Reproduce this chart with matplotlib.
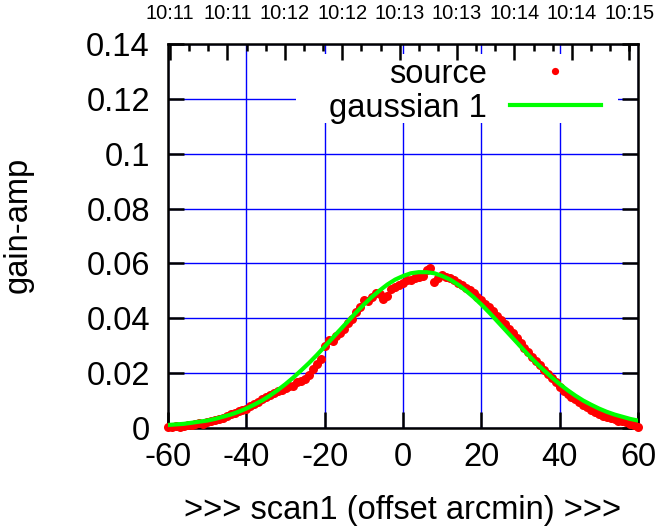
import matplotlib
matplotlib.use('Agg')
import matplotlib.pyplot as plt
from matplotlib.patches import Rectangle
from matplotlib.ticker import AutoMinorLocator

plt.rcParams['font.family'] = ['Liberation Sans', 'DejaVu Sans']

# source points: offset (arcmin) and gain-amp
src_x = list(range(-60, 61))
src_y = [0.0002, 0.0005, 0.0006, 0.0004, 0.0008, 0.0010, 0.0011, 0.0014, 0.0017, 0.0016,
         0.0021, 0.0025, 0.0028, 0.0032, 0.0035, 0.0044, 0.0050, 0.0053, 0.0061, 0.0066,
         0.0068, 0.0079, 0.0087, 0.0095, 0.0104, 0.0112, 0.0121, 0.0126, 0.0133, 0.0140,
         0.0146, 0.0152, 0.0152, 0.0168, 0.0172, 0.0180, 0.0192, 0.0215, 0.0232, 0.0252,
         0.0300, 0.0322, 0.0318, 0.0335, 0.0345, 0.0362, 0.0381, 0.0398, 0.0424, 0.0440,
         0.0466, 0.0462, 0.0478, 0.0492, 0.0488, 0.0470, 0.0482, 0.0508, 0.0515, 0.0522,
         0.0528, 0.0538, 0.0541, 0.0545, 0.0549, 0.0553, 0.0575, 0.0585, 0.0532, 0.0548,
         0.0557, 0.0552, 0.0545, 0.0540, 0.0530, 0.0521, 0.0510, 0.0503, 0.0492, 0.0478,
         0.0466, 0.0452, 0.0440, 0.0425, 0.0410, 0.0392, 0.0378, 0.0362, 0.0345, 0.0328,
         0.0310, 0.0292, 0.0276, 0.0260, 0.0244, 0.0228, 0.0212, 0.0196, 0.0182, 0.0166,
         0.0148, 0.0136, 0.0125, 0.0114, 0.0104, 0.0093, 0.0084, 0.0075, 0.0066, 0.0058,
         0.0051, 0.0045, 0.0040, 0.0035, 0.0031, 0.0027, 0.0024, 0.0021, 0.0016, 0.0010,
         0.0003]

# gaussian fit curve
fit_x = list(range(-60, 61, 2))
fit_y = [0.0011, 0.0013, 0.0015, 0.0019, 0.0023, 0.0027, 0.0033, 0.0041, 0.0049, 0.0059,
         0.0071, 0.0085, 0.0100, 0.0118, 0.0138, 0.0160, 0.0184, 0.0210, 0.0237, 0.0266,
         0.0297, 0.0328, 0.0359, 0.0390, 0.0421, 0.0450, 0.0477, 0.0501, 0.0523, 0.0541,
         0.0554, 0.0564, 0.0568, 0.0568, 0.0564, 0.0554, 0.0541, 0.0523, 0.0501, 0.0477,
         0.0450, 0.0421, 0.0390, 0.0359, 0.0328, 0.0297, 0.0266, 0.0237, 0.0210, 0.0184,
         0.0160, 0.0138, 0.0118, 0.0100, 0.0085, 0.0071, 0.0059, 0.0049, 0.0041, 0.0033,
         0.0027]

xticks = [-60, -40, -20, 0, 20, 40, 60]
yticks = [0, 0.02, 0.04, 0.06, 0.08, 0.10, 0.12, 0.14]
ytick_labels = ['0', '0.02', '0.04', '0.06', '0.08', '0.1', '0.12', '0.14']
top_pos = [-59.5, -44.84, -30.18, -15.52, -0.86, 13.8, 28.46, 43.12, 57.8]
top_labels = ['10:11', '10:11', '10:12', '10:12', '10:13', '10:13', '10:14', '10:14', '10:15']

FS = 23.5

fig = plt.figure(figsize=(6.66, 5.27), dpi=100)
ax = fig.add_axes([0.2523, 0.1879, 0.7057, 0.7287])

ax.set_xlim(-60, 60)
ax.set_ylim(0, 0.14)
ax.set_xticks(xticks)
ax.set_xticklabels([str(v) for v in xticks])
ax.set_yticks(yticks)
ax.set_yticklabels(ytick_labels)
ax.tick_params(direction='in', length=11.5, width=1.8, labelsize=FS,
               top=True, right=True)
ax.tick_params(axis='x', pad=10)
ax.tick_params(axis='y', pad=13)
ax.grid(True, color='#0000ff', linewidth=1.0)
ax.set_axisbelow(True)
for s in ax.spines.values():
    s.set_linewidth(1.8)

# opaque key area
ax.add_patch(Rectangle((0.272, 0.794), 0.685, 0.18, transform=ax.transAxes,
                       facecolor='white', edgecolor='none', zorder=1))

ax.plot(src_x, src_y, 'o', color='#ff0000', markersize=6.5, markeredgewidth=0,
        label='source', zorder=3, clip_on=False)
ax.plot(fit_x, fit_y, '-', color='#00ff00', linewidth=3, label='gaussian 1', zorder=4)

ax.set_xlabel('>>> scan1 (offset arcmin) >>>', fontsize=FS)
ax.set_ylabel('gain-amp', fontsize=FS)
ax.xaxis.set_label_coords(0.5, -0.175)
ax.yaxis.set_label_coords(-0.287, 0.529)

leg = ax.legend(loc='upper right', bbox_to_anchor=(0.921, 0.962), frameon=False,
                markerfirst=False, fontsize=FS, handlelength=2.8, handletextpad=0.7,
                labelspacing=0.1, borderpad=0, borderaxespad=0, numpoints=1,
                markerscale=0.8)

ax2 = ax.twiny()
ax2.set_xlim(-60, 60)
ax2.set_xticks(top_pos)
ax2.set_xticklabels(top_labels)
ax2.xaxis.set_minor_locator(AutoMinorLocator(3))
ax2.tick_params(which='major', direction='in', length=11.5, width=1.8, labelsize=14.5, pad=15)
ax2.tick_params(which='minor', direction='in', length=5, width=1.8)
for s in ax2.spines.values():
    s.set_visible(False)

fig.savefig('out.png', dpi=100)
